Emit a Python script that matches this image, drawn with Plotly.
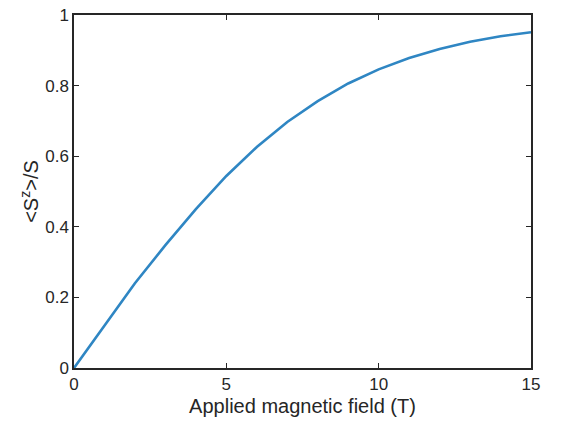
import plotly.graph_objects as go

# Applied field (T) and normalised magnetisation <S^z>/S
field_T = [0, 1, 2, 3, 4, 5, 6, 7, 8, 9, 10, 11, 12, 13, 14, 15]
sz_over_s = [0.0, 0.121, 0.240, 0.348, 0.450, 0.544, 0.626, 0.697, 0.756,
             0.806, 0.846, 0.878, 0.904, 0.924, 0.940, 0.951]

x_ticks = [0, 5, 10, 15]
y_ticks = [0, 0.2, 0.4, 0.6, 0.8, 1]

ink = "#262626"
font_family = "Liberation Sans, Arial, sans-serif"

fig = go.Figure()
fig.add_trace(go.Scatter(
    x=field_T, y=sz_over_s, mode="lines",
    line=dict(color="#2F86C3", width=2.6),
    showlegend=False,
))

axis_common = dict(
    showgrid=False, zeroline=False, automargin=False,
    showline=True, linecolor=ink, linewidth=1.5, mirror="allticks",
    ticks="inside", ticklen=5, tickwidth=1.2, tickcolor=ink,
    tickfont=dict(family=font_family, size=17, color=ink),
)

fig.update_xaxes(
    range=[0, 15], tickvals=x_ticks, ticktext=[str(v) for v in x_ticks],
    title=dict(text="Applied magnetic field (T)", standoff=6,
               font=dict(family=font_family, size=20, color=ink)),
    **axis_common,
)
fig.update_yaxes(
    range=[0, 1], tickvals=y_ticks, ticktext=[f"{v:g}" for v in y_ticks],
    title=dict(text="<S<sup>z</sup>>/S", standoff=1,
               font=dict(family=font_family, size=20, color=ink)),
    **axis_common,
)

fig.update_layout(
    width=561, height=426,
    margin=dict(l=74, r=30, t=15, b=58),
    paper_bgcolor="white", plot_bgcolor="white",
)

fig.write_html("out.html")
